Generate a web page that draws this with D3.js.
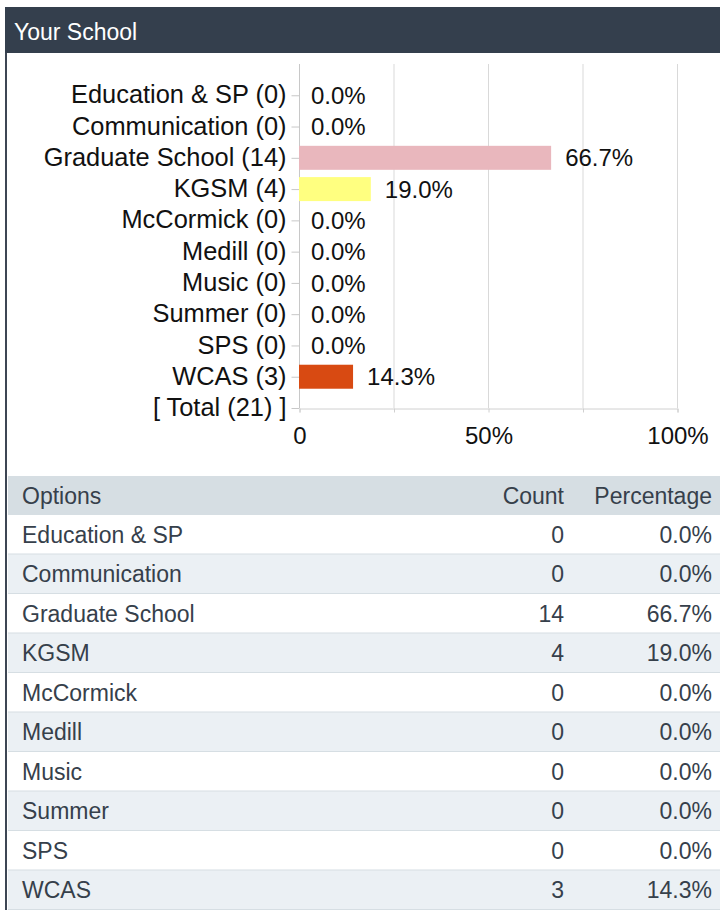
<!DOCTYPE html>
<html>
<head>
<meta charset="utf-8">
<script src="https://cdn.jsdelivr.net/npm/d3@7"></script>
<style>
  body { margin: 0; background: #fff; }
  svg text { font-family: "Liberation Sans", Arial, sans-serif; }
</style>
</head>
<body>
<svg id="chart" width="720" height="910"></svg>
<script>
var title = 'Your School';
var options = ['Education & SP', 'Communication', 'Graduate School', 'KGSM', 'McCormick',
               'Medill', 'Music', 'Summer', 'SPS', 'WCAS'];
var counts = [0, 0, 14, 4, 0, 0, 0, 0, 0, 3];
var percents = [0.0, 0.0, 66.7, 19.0, 0.0, 0.0, 0.0, 0.0, 0.0, 14.3];
var barColors = ['#9fc5e8', '#b6d7a8', '#e9b7bd', '#ffff80', '#b4a7d6',
                 '#f9cb9c', '#a2c4c9', '#d5a6bd', '#ffe599', '#d84a12'];
var xTicks = [0, 25, 50, 75, 100];
var xTickLabels = {0: '0', 50: '50%', 100: '100%'};
var tableHeads = ['Options', 'Count', 'Percentage'];

var svg = d3.select('#chart');
var total = d3.sum(counts);

// panel frame + title bar
svg.append('rect').attr('x', 5).attr('y', 7).attr('width', 2).attr('height', 903).attr('fill', '#3d4654');
svg.append('rect').attr('x', 5).attr('y', 7).attr('width', 715).attr('height', 46).attr('fill', '#343f4d');
svg.append('text').attr('x', 14).attr('y', 40).attr('fill', '#fff')
    .style('font-size', '23px').text(title);

// ---- bar chart ----
var plotTop = 64, plotBottom = 408;
var xScale = d3.scaleLinear().domain([0, 100]).range([299, 677]);
var yLabels = options.map(function (d, i) { return d + ' (' + counts[i] + ')'; })
    .concat(['[ Total (' + total + ') ]']);
var step = (plotBottom - plotTop) / yLabels.length;
var yScale = d3.scalePoint().domain(yLabels).range([plotTop + step, plotBottom]);

// gridlines
svg.append('g').selectAll('line')
    .data(xTicks.slice(1))
    .enter().append('line')
    .attr('x1', function (d) { return xScale(d) + 0.5; })
    .attr('x2', function (d) { return xScale(d) + 0.5; })
    .attr('y1', plotTop).attr('y2', plotBottom)
    .attr('stroke', '#d9d9d9');

// x axis
var xAxis = d3.axisBottom(xScale).tickValues(xTicks).tickSize(4).tickPadding(14)
    .tickFormat(function (d) { return xTickLabels[d] || ''; });
var xAxisGroup = svg.append('g')
    .attr('transform', 'translate(0.5,' + (plotBottom + 0.5) + ')')
    .call(xAxis);
xAxisGroup.select('.domain').attr('stroke', '#d0d0d0');
xAxisGroup.selectAll('line').attr('stroke', '#d0d0d0');
xAxisGroup.selectAll('text').style('font-size', '24px').attr('fill', '#111')
    .attr('font-family', null);

// y axis
var yAxis = d3.axisLeft(yScale).tickSize(8).tickPadding(5);
var yAxisGroup = svg.append('g')
    .attr('transform', 'translate(' + (xScale(0) + 0.5) + ',0)')
    .call(yAxis);
yAxisGroup.select('.domain').attr('stroke', '#c8c8c8')
    .attr('d', 'M0,' + plotTop + 'V' + plotBottom);
yAxisGroup.selectAll('line').attr('stroke', '#c8c8c8');
yAxisGroup.selectAll('text').style('font-size', '25.4px').attr('fill', '#111')
    .attr('font-family', null).attr('dy', '0.3em');

// bars
var barHeight = 24;
var bars = options.map(function (d, i) {
    return { label: yLabels[i], pct: percents[i], color: barColors[i] };
});
svg.append('g').selectAll('rect')
    .data(bars)
    .enter().append('rect')
    .attr('x', xScale(0))
    .attr('y', function (d) { return yScale(d.label) - barHeight / 2; })
    .attr('width', function (d) { return xScale(d.pct) - xScale(0); })
    .attr('height', barHeight)
    .attr('fill', function (d) { return d.color; });

// value labels
svg.append('g').selectAll('text')
    .data(bars)
    .enter().append('text')
    .attr('x', function (d) { return xScale(d.pct) + (d.pct > 0 ? 14 : 12); })
    .attr('y', function (d) { return yScale(d.label); })
    .attr('dy', '0.36em')
    .attr('fill', '#111')
    .style('font-size', '24px')
    .text(function (d) { return d.pct.toFixed(1) + '%'; });

// ---- table ----
var tableLeft = 8, tableRight = 720;
var headTop = 476, headBottom = 515;
var rowScale = d3.scaleBand().domain(options).range([headBottom, 910]);
var textColor = '#36404b';

svg.append('rect').attr('x', tableLeft).attr('y', headTop)
    .attr('width', tableRight - tableLeft).attr('height', headBottom - headTop)
    .attr('fill', '#d6dee3');

var colX = [22, 564, 712];
var colAnchor = ['start', 'end', 'end'];
svg.append('g').selectAll('text')
    .data(tableHeads)
    .enter().append('text')
    .attr('x', function (d, i) { return colX[i]; })
    .attr('y', (headTop + headBottom) / 2)
    .attr('dy', '0.35em')
    .attr('text-anchor', function (d, i) { return colAnchor[i]; })
    .attr('fill', textColor)
    .style('font-size', '23px')
    .text(function (d) { return d; });

var rows = svg.append('g').selectAll('g')
    .data(options)
    .enter().append('g')
    .attr('transform', function (d) { return 'translate(0,' + rowScale(d) + ')'; });

rows.append('rect')
    .attr('x', tableLeft).attr('width', tableRight - tableLeft)
    .attr('height', rowScale.bandwidth())
    .attr('fill', function (d, i) { return i % 2 ? '#ebf0f4' : '#ffffff'; });
rows.append('rect')
    .attr('x', tableLeft).attr('width', tableRight - tableLeft)
    .attr('y', rowScale.bandwidth() - 1).attr('height', 2)
    .attr('fill', '#d6dee3');

rows.each(function (d, i) {
    var cells = [d, String(counts[i]), percents[i].toFixed(1) + '%'];
    d3.select(this).selectAll('text')
        .data(cells)
        .enter().append('text')
        .attr('x', function (c, j) { return colX[j]; })
        .attr('y', rowScale.bandwidth() / 2)
        .attr('dy', '0.35em')
        .attr('text-anchor', function (c, j) { return colAnchor[j]; })
        .attr('fill', textColor)
        .style('font-size', '23px')
        .text(function (c) { return c; });
});
</script>
</body>
</html>
